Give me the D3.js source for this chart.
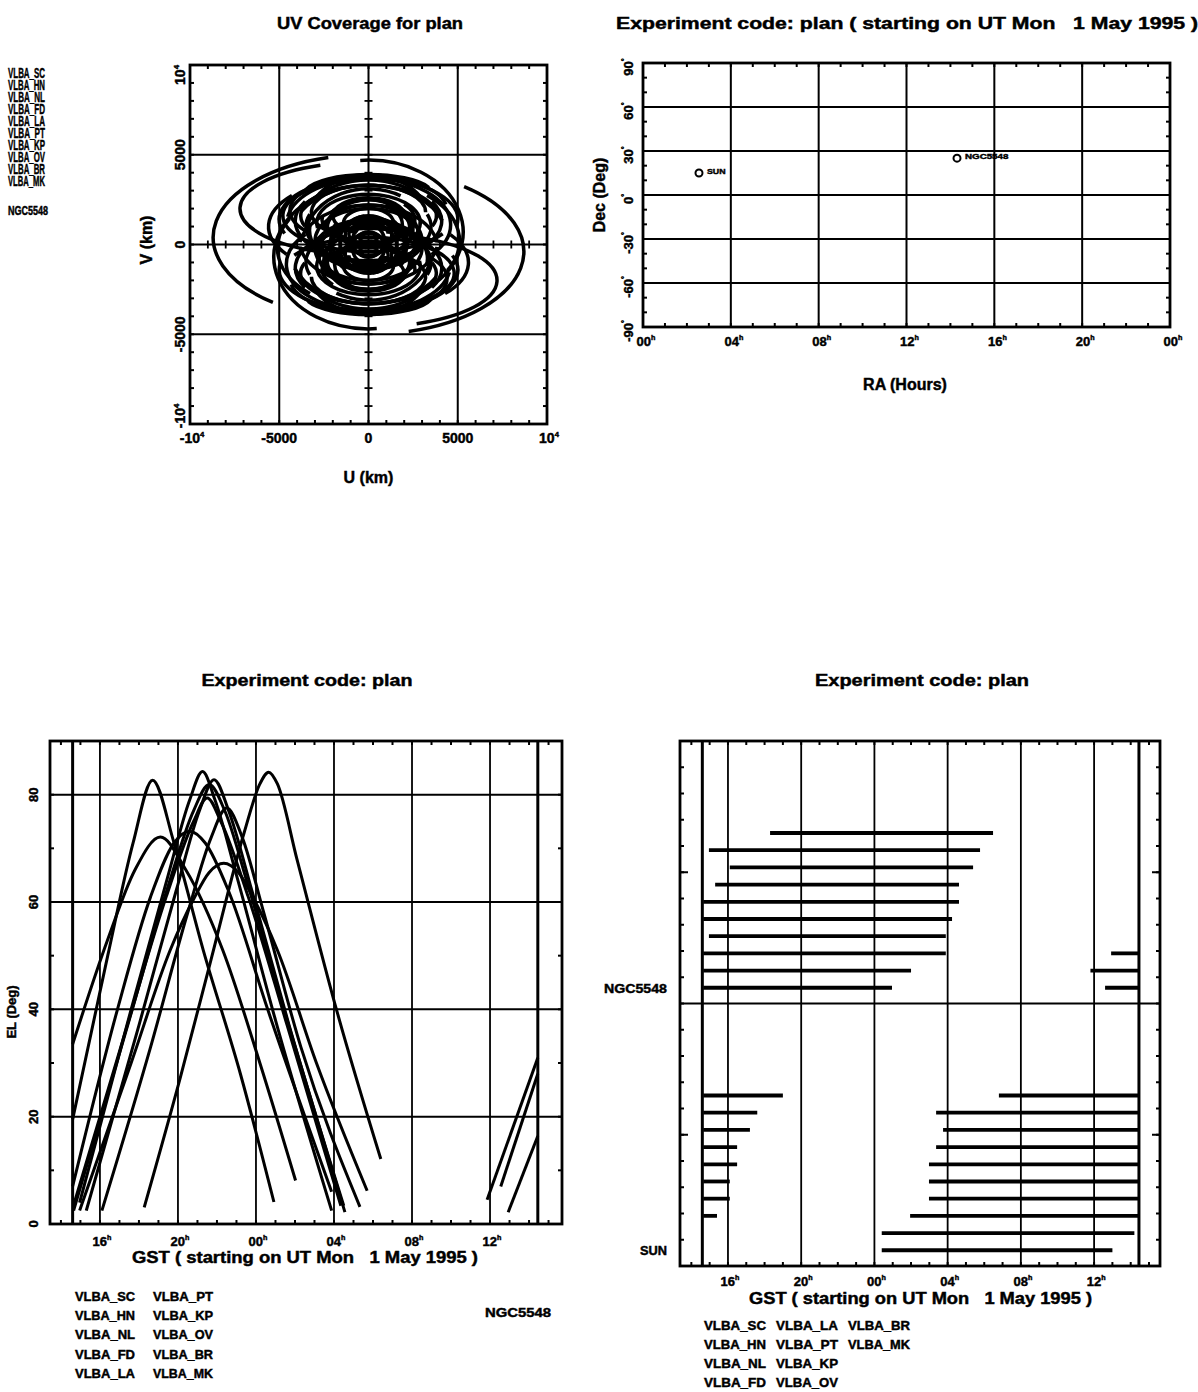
<!DOCTYPE html>
<html lang="en">
  <head>
    <meta charset="utf-8">
    <title>plan</title>
    <style>
      body { margin: 0; background: #fff; }
      text { font-family: "Liberation Sans", Arial, sans-serif; font-weight: bold; fill: #000;
             white-space: pre; stroke: #000; stroke-width: 0.45; }
    </style>
  </head>
  <body>
    <div id="chart-area"></div>
    <script src="https://d3js.org/d3.v7.min.js"></script>
    <script>
      const svg_width = 1198;
      const svg_height = 1392;

      // ---- data ----
      const antennas = ['VLBA_SC', 'VLBA_HN', 'VLBA_NL', 'VLBA_FD', 'VLBA_LA',
                        'VLBA_PT', 'VLBA_KP', 'VLBA_OV', 'VLBA_BR', 'VLBA_MK'];
      const source_names = ['SUN', 'NGC5548'];
      const source_ra = [2.55, 14.30];     // hours
      const source_dec = [15.0, 25.1];     // degrees

      const exp_start = 14.6;   // GST hours
      const exp_end = 38.45;

      // uv tracks, thousands of km: [u semi-axis, v semi-axis, v centre, start angle, end angle]
      const uv_tracks = [
        [8.7, 4.6, 0.4, 105, 232],
        [7.2, 2.6, 2.0, 112, 245],
        [5.3, 4.0, 0.7, -60, 95],
        [5.0, 2.3, 1.4, -10, 200],
        [4.8, 2.0, 1.6, 100, 330],
        [4.6, 2.6, 1.1, -40, 170],
        [4.4, 1.9, 1.9, 10, 220],
        [4.1, 2.2, 1.3, 150, 390],
        [3.8, 1.7, 1.6, -20, 200],
        [3.5, 2.0, 1.0, 160, 380],
        [3.2, 1.5, 1.8, 0, 230],
        [2.9, 1.6, 1.2, -50, 190],
        [2.6, 1.3, 1.4, 170, 400],
        [2.3, 1.2, 1.0, -30, 210],
        [2.0, 1.0, 1.6, 0, 250],
        [1.7, 0.9, 0.8, 160, 400],
        [1.4, 0.8, 1.2, -40, 200],
        [1.1, 0.6, 0.6, 0, 300],
        [0.8, 0.5, 1.0, -20, 220],
        [0.5, 0.3, 0.4, 0, 360],
        [3.6, 1.1, 2.8, 20, 165],
        [2.4, 0.7, 3.1, 0, 180],
        [4.0, 3.0, 0.6, 40, 140],
        [5.6, 2.7, 1.0, 140, 215],
        [5.1, 3.3, -0.2, 150, 230],
        [4.4, 3.0, -0.3, 200, 330],
        [3.6, 2.9, 0.2, 60, 170],
        [3.0, 1.8, 0.2, 0, 200],
        [2.2, 1.4, -0.1, 30, 260],
        [3.9, 2.5, 0.3, 190, 350],
        [2.8, 1.9, 0.5, 190, 400],
        [2.5, 1.6, 0.9, -60, 150],
        [2.1, 1.7, 0.3, 150, 380],
        [1.9, 1.3, 1.1, 180, 420],
        [1.6, 1.4, 0.2, -30, 250],
        [3.3, 2.2, 0.8, 170, 330],
        [2.7, 2.4, 0.1, 20, 160],
        [1.3, 1.1, 0.5, 100, 400],
        [0.9, 0.9, 0.2, 0, 360],
        [3.4, 2.6, 1.3, 30, 150]
      ];

      // elevation of NGC5548 per antenna: [GST hours, EL deg]
      const el_tracks = [
        [[[18.27, 3.1], [20.1, 27], [21.7, 49.3], [23.4, 73], [24.2, 82], [24.65, 84.2], [25.1, 82], [26.1, 68], [28.2, 39], [30.4, 12.1]]],
        [[[14.96, 2.5], [17.6, 30], [19.6, 51], [20.8, 60.5], [21.6, 65.5], [22.35, 67.2], [23.1, 65.5], [23.9, 60.5], [25.1, 51], [27.1, 30], [29.7, 6.2]]],
        [[[16.1, 2.5], [18.6, 33], [20.5, 58], [21.7, 72], [22.5, 77.5], [23.3, 72], [24.4, 58], [26.3, 33], [29.33, 3.2]]],
        [[[15.3, 2.5], [18.0, 37], [19.9, 62], [21.1, 77], [21.85, 82.8], [22.6, 77], [23.8, 62], [25.7, 37], [28.5, 3.4]]],
        [[[14.65, 2.5], [17.5, 38], [19.5, 63], [20.8, 77], [21.6, 81.9], [22.4, 77], [23.6, 63], [25.6, 38], [28.56, 2.2]]],
        [[[14.65, 3.5], [17.4, 37], [19.4, 61], [20.8, 75], [21.5, 79.4], [22.2, 75], [23.6, 61], [25.6, 37], [28.35, 3.4]]],
        [[[14.96, 4], [17.6, 40], [19.5, 65], [20.6, 79], [21.26, 84.3], [21.9, 79], [23.0, 65], [25.0, 38], [27.88, 2.5]]],
        [[[14.6, 7], [16.9, 40], [18.6, 61], [19.8, 71], [20.6, 73.2], [21.4, 71], [22.6, 62], [24.6, 40], [27.88, 6.0]],
         [[36.93, 2.2], [38.45, 16.4]]],
        [[[14.6, 33.5], [16.4, 53], [17.8, 66], [19.1, 72.1], [20.4, 66], [22.3, 51], [24.2, 30], [26.03, 8.1]],
         [[35.85, 4.5], [38.45, 31]]],
        [[[14.6, 19.5], [16.4, 50], [17.7, 71], [18.7, 82.7], [19.8, 71], [21.3, 51], [23.2, 28], [24.92, 4.1]],
         [[36.55, 7], [38.45, 28]]]
      ];

      // up-time bars (GST hours), rows from top to bottom
      const ngc_bars = [
        [[18.3, 30.48]],
        [[14.96, 29.77]],
        [[16.1, 29.39]],
        [[15.3, 28.62]],
        [[14.65, 28.62]],
        [[14.65, 28.24]],
        [[14.96, 27.9]],
        [[14.65, 27.9], [36.93, 38.4]],
        [[14.65, 26.0], [35.8, 38.4]],
        [[14.65, 24.96], [36.6, 38.4]]
      ];
      const sun_bars = [
        [[14.65, 19.0], [30.8, 38.4]],
        [[14.65, 17.6], [27.37, 38.4]],
        [[14.65, 17.2], [27.75, 38.4]],
        [[14.65, 16.5], [27.37, 38.4]],
        [[14.65, 16.5], [26.98, 38.4]],
        [[14.65, 16.1], [26.98, 38.4]],
        [[14.65, 16.1], [26.98, 38.4]],
        [[14.65, 15.4], [25.95, 38.4]],
        [[24.4, 38.2]],
        [[24.4, 37.0]]
      ];

      const gst_ticks = [16, 20, 24, 28, 32, 36];
      const gst_labels = ['16', '20', '00', '04', '08', '12'];
      const ra_ticks = [0, 4, 8, 12, 16, 20, 24];
      const ra_labels = ['00', '04', '08', '12', '16', '20', '00'];
      const dec_ticks = [90, 60, 30, 0, -30, -60, -90];
      const el_ticks = [0, 20, 40, 60, 80];
      const uv_ticks = [-10, -5, 0, 5, 10];
      const uv_labels = [['-10', '4'], ['-5000', ''], ['0', ''], ['5000', ''], ['10', '4']];

      const svg = d3.select('#chart-area')
        .append('svg')
        .attr('width', svg_width)
        .attr('height', svg_height);

      // ---- helpers ----
      function txt(g, s, x, y, size, opts = {}) {
        const t = g.append('text')
          .attr('font-size', size)
          .attr('text-anchor', opts.anchor || 'start');
        if (opts.rotate) {
          t.attr('transform', `translate(${x},${y}) rotate(${opts.rotate})`);
        } else {
          t.attr('x', x).attr('y', y);
        }
        t.append('tspan').text(s);
        if (opts.sup) {
          t.append('tspan').attr('font-size', size * 0.55).attr('dy', -size * 0.45).text(opts.sup);
        }
        if (opts.len) t.attr('textLength', opts.len).attr('lengthAdjust', 'spacingAndGlyphs');
        return t;
      }

      function vline(g, x, y0, y1, w) {
        g.append('line').attr('x1', x).attr('x2', x).attr('y1', y0).attr('y2', y1)
          .attr('stroke', '#000').attr('stroke-width', w);
      }
      function hline(g, y, x0, x1, w) {
        g.append('line').attr('x1', x0).attr('x2', x1).attr('y1', y).attr('y2', y)
          .attr('stroke', '#000').attr('stroke-width', w);
      }

      function frame(g, xs, ys) {
        const [x0, x1] = xs.range();
        const [y0, y1] = ys.range();
        g.append('rect')
          .attr('x', Math.min(x0, x1)).attr('y', Math.min(y0, y1))
          .attr('width', Math.abs(x1 - x0)).attr('height', Math.abs(y1 - y0))
          .attr('fill', 'none').attr('stroke', '#000').attr('stroke-width', 2.8);
      }

      // minor ticks pointing into the frame
      function minor_ticks(g, xs, ys, xvals, yvals, len) {
        const [x0, x1] = xs.range();
        const [yb, yt] = ys.range();
        xvals.forEach(v => {
          vline(g, xs(v), yb, yb - len, 2);
          vline(g, xs(v), yt, yt + len, 2);
        });
        yvals.forEach(v => {
          hline(g, ys(v), x0, x0 + len, 2);
          hline(g, ys(v), x1, x1 - len, 2);
        });
      }

      // ================= UV coverage =================
      const x_uv = d3.scaleLinear().domain([-10, 10]).range([190, 547]);
      const y_uv = d3.scaleLinear().domain([-10, 10]).range([424, 65]);
      const g_uv = svg.append('g');

      uv_ticks.slice(1, 4).forEach(v => {
        vline(g_uv, x_uv(v), y_uv(-10), y_uv(10), 2);
        hline(g_uv, y_uv(v), x_uv(-10), x_uv(10), 2);
      });
      const uv_minor = d3.range(-9, 10);
      minor_ticks(g_uv, x_uv, y_uv, uv_minor, uv_minor, 4);
      // small crosses along the u=0 and v=0 lines
      uv_minor.forEach(v => {
        vline(g_uv, x_uv(v), y_uv(0) - 4, y_uv(0) + 4, 1.8);
        hline(g_uv, y_uv(v), x_uv(0) - 4, x_uv(0) + 4, 1.8);
      });

      function ellipse_arc(a, b, v0, t0, t1) {
        const rx = x_uv(a) - x_uv(0);
        const ry = y_uv(0) - y_uv(b);
        const pt = t => {
          const r = t * Math.PI / 180;
          return `${x_uv(a * Math.cos(r))},${y_uv(v0 + b * Math.sin(r))}`;
        };
        let d = 'M' + pt(t0);
        let t = t0;
        while (t < t1) {
          const tn = Math.min(t + 170, t1);
          d += `A${rx},${ry} 0 0 0 ${pt(tn)}`;
          t = tn;
        }
        return d;
      }

      const uv_paths = [];
      uv_tracks.forEach(([a, b, v0, t0, t1]) => {
        uv_paths.push(ellipse_arc(a, b, v0, t0, t1));
        uv_paths.push(ellipse_arc(a, b, -v0, t0 + 180, t1 + 180));   // conjugate track
      });
      g_uv.selectAll('path.uv').data(uv_paths).enter()
        .append('path')
        .attr('class', 'uv')
        .attr('d', d => d)
        .attr('fill', 'none')
        .attr('stroke', '#000')
        .attr('stroke-width', 3.5);

      frame(g_uv, x_uv, y_uv);

      uv_ticks.forEach((v, i) => {
        const [s, sup] = uv_labels[i];
        txt(g_uv, s, x_uv(v) + (sup ? 2 : 0), 443, 14, {anchor: 'middle', sup: sup || null});
        txt(g_uv, s, 185, y_uv(v) + (i === 4 ? 10 : (i === 0 ? -8 : 0)), 14,
          {anchor: 'middle', rotate: -90, sup: sup || null});
      });
      txt(g_uv, 'U (km)', x_uv(0), 483, 16, {anchor: 'middle'});
      txt(g_uv, 'V (km)', 152, 240, 16, {anchor: 'middle', rotate: -90});
      txt(g_uv, 'UV Coverage for plan', 370, 29, 16, {anchor: 'middle', len: 186});

      // squeezed legend at the far left
      antennas.forEach((a, i) => {
        txt(svg, a, 8, 78 + i * 12, 14.5, {len: 37}).attr('stroke-width', 0.9);
      });
      txt(svg, 'NGC5548', 8, 215, 12, {len: 40}).attr('stroke-width', 0.8);

      // ================= RA / Dec =================
      const x_ra = d3.scaleLinear().domain([0, 24]).range([643, 1170]);
      const y_dec = d3.scaleLinear().domain([-90, 90]).range([327, 63]);
      const g_ra = svg.append('g');
      ra_ticks.slice(1, 6).forEach(v => vline(g_ra, x_ra(v), y_dec(-90), y_dec(90), 2));
      dec_ticks.slice(1, 6).forEach(v => hline(g_ra, y_dec(v), x_ra(0), x_ra(24), 2));
      minor_ticks(g_ra, x_ra, y_dec, d3.range(1, 24), d3.range(-80, 90, 10), 4);
      frame(g_ra, x_ra, y_dec);

      ra_ticks.forEach((v, i) => {
        txt(g_ra, ra_labels[i], x_ra(v) + 3, 346, 13, {anchor: 'middle', sup: 'h'});
      });
      dec_ticks.forEach(v => {
        txt(g_ra, String(v), 633, y_dec(v) + 4, 13, {anchor: 'middle', rotate: -90, sup: '°'});
      });
      txt(g_ra, 'Dec (Deg)', 605, y_dec(0), 16, {anchor: 'middle', rotate: -90});
      txt(g_ra, 'RA (Hours)', 905, 390, 16, {anchor: 'middle'});
      txt(svg, 'Experiment code: plan ( starting on UT Mon   1 May 1995 )', 616, 29, 16,
        {len: 582});

      g_ra.selectAll('circle').data(source_names).enter()
        .append('circle')
        .attr('cx', (d, i) => x_ra(source_ra[i]))
        .attr('cy', (d, i) => y_dec(source_dec[i]))
        .attr('r', 3.5)
        .attr('fill', 'none')
        .attr('stroke', '#000')
        .attr('stroke-width', 2);
      g_ra.selectAll('text.src').data(source_names).enter()
        .append('text')
        .attr('class', 'src')
        .text(d => d)
        .attr('x', (d, i) => x_ra(source_ra[i]) + 8)
        .attr('y', (d, i) => y_dec(source_dec[i]) + 1)
        .attr('font-size', 8)
        .attr('stroke-width', 0.8)
        .attr('textLength', d => d.length * 6.2)
        .attr('lengthAdjust', 'spacingAndGlyphs');

      // ================= Elevation vs GST =================
      const x_el = d3.scaleLinear().domain([13.44, 39.69]).range([50, 562]);
      const y_el = d3.scaleLinear().domain([0, 90]).range([1224, 741]);
      const g_el = svg.append('g');
      gst_ticks.forEach(v => vline(g_el, x_el(v), y_el(0), y_el(90), 1.8));
      vline(g_el, x_el(exp_start), y_el(0), y_el(90), 3);
      vline(g_el, x_el(exp_end), y_el(0), y_el(90), 3);
      el_ticks.slice(1).forEach(v => hline(g_el, y_el(v), x_el(13.44), x_el(39.69), 2));
      minor_ticks(g_el, x_el, y_el, d3.range(14, 40), d3.range(10, 90, 10), 4);

      const el_line = d3.line()
        .x(d => x_el(d[0]))
        .y(d => y_el(d[1]))
        .curve(d3.curveMonotoneX);
      const el_segments = el_tracks.flat();
      g_el.selectAll('path.el').data(el_segments).enter()
        .append('path')
        .attr('class', 'el')
        .attr('d', el_line)
        .attr('fill', 'none')
        .attr('stroke', '#000')
        .attr('stroke-width', 3);
      frame(g_el, x_el, y_el);

      gst_ticks.forEach((v, i) => {
        txt(g_el, gst_labels[i], x_el(v) + 2, 1246, 13, {anchor: 'middle', sup: 'h'});
      });
      el_ticks.forEach(v => {
        txt(g_el, String(v), 38, y_el(v), 13, {anchor: 'middle', rotate: -90});
      });
      txt(g_el, 'EL (Deg)', 16, 1012, 13, {anchor: 'middle', rotate: -90});
      txt(g_el, 'GST ( starting on UT Mon   1 May 1995 )', 132, 1263, 16, {len: 346});
      txt(svg, 'Experiment code: plan', 307, 686, 16, {anchor: 'middle', len: 211});

      const leg_rows = 5;
      antennas.forEach((a, i) => {
        txt(svg, a, 75 + Math.floor(i / leg_rows) * 78, 1301 + (i % leg_rows) * 19.2, 13, {len: 60});
      });
      txt(svg, 'NGC5548', 485, 1317, 13, {len: 66});

      // ================= Up-time bars =================
      const x_bar = d3.scaleLinear().domain([13.38, 39.6]).range([680, 1160]);
      const y_bar = d3.scaleLinear().domain([0, 2]).range([1266, 741]);
      const g_bar = svg.append('g');
      gst_ticks.forEach(v => vline(g_bar, x_bar(v), y_bar(0), y_bar(2), 1.8));
      vline(g_bar, x_bar(exp_start), y_bar(0), y_bar(2), 3);
      vline(g_bar, x_bar(exp_end), y_bar(0), y_bar(2), 3);
      hline(g_bar, y_bar(1), x_bar(13.38), x_bar(39.6), 2);
      minor_ticks(g_bar, x_bar, y_bar, d3.range(14, 40), d3.range(0.1, 2, 0.1), 4);
      [0.5, 1.5].forEach(v => {
        hline(g_bar, y_bar(v), x_bar(13.38), x_bar(13.38) + 8, 2);
        hline(g_bar, y_bar(v), x_bar(39.6), x_bar(39.6) - 8, 2);
      });

      const row_pos = (s, i) => s + 0.06 + 0.0655 * (9 - i);
      const bar_data = [];
      [sun_bars, ngc_bars].forEach((rows, s) => {
        rows.forEach((segs, i) => {
          segs.forEach(seg => bar_data.push({s: s, i: i, start: seg[0], end: seg[1]}));
        });
      });
      g_bar.selectAll('line.bar').data(bar_data).enter()
        .append('line')
        .attr('class', 'bar')
        .attr('x1', d => x_bar(d.start))
        .attr('x2', d => x_bar(d.end))
        .attr('y1', d => y_bar(row_pos(d.s, d.i)))
        .attr('y2', d => y_bar(row_pos(d.s, d.i)))
        .attr('stroke', '#000')
        .attr('stroke-width', 3.8);
      frame(g_bar, x_bar, y_bar);

      gst_ticks.forEach((v, i) => {
        txt(g_bar, gst_labels[i], x_bar(v) + 2, 1286, 13, {anchor: 'middle', sup: 'h'});
      });
      source_names.forEach((n, s) => {
        txt(g_bar, n, 667, y_bar(row_pos(s, 9)) + 5, 13, {anchor: 'end', len: n.length * 9});
      });
      txt(g_bar, 'GST ( starting on UT Mon   1 May 1995 )', 749, 1304, 16, {len: 343});
      txt(svg, 'Experiment code: plan', 922, 686, 16, {anchor: 'middle', len: 214});

      const leg2_rows = 4;
      antennas.forEach((a, i) => {
        txt(svg, a, 704 + Math.floor(i / leg2_rows) * 72, 1330 + (i % leg2_rows) * 19, 13, {len: 62});
      });
    </script>
  </body>
</html>
